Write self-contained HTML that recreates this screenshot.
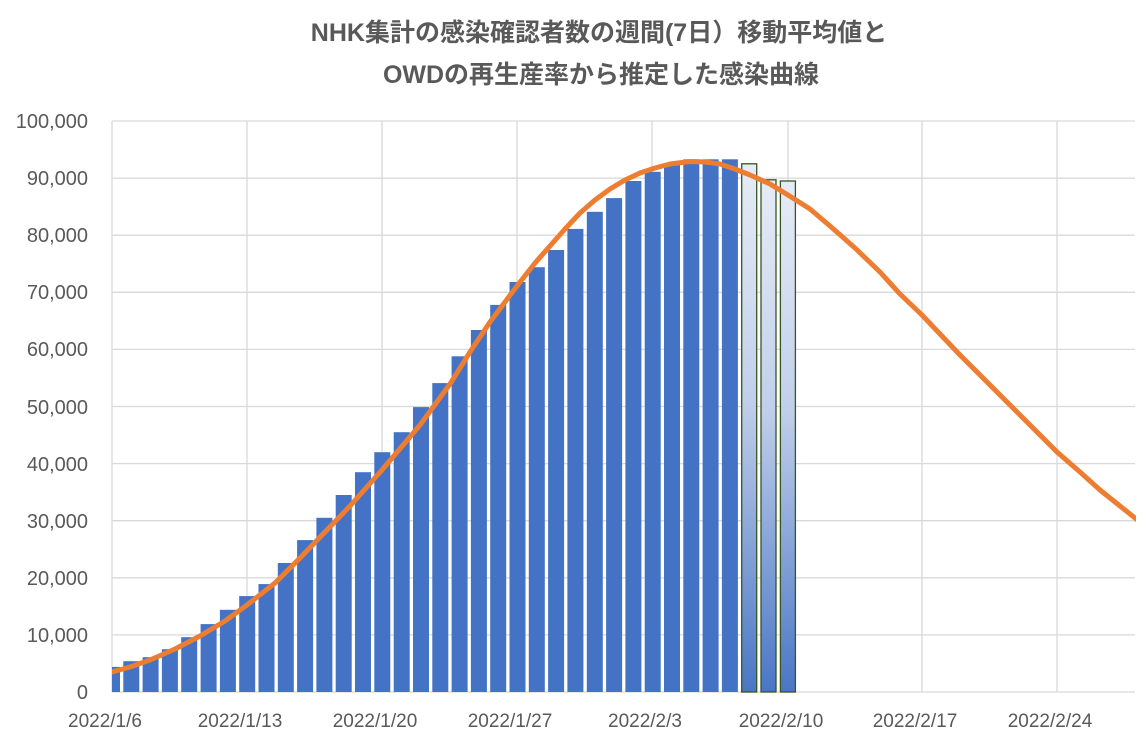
<!DOCTYPE html>
<html><head><meta charset="utf-8"><style>
html,body{margin:0;padding:0;background:#fff;}
svg{display:block;font-family:"Liberation Sans","Noto Sans CJK JP",sans-serif;}
</style></head><body>
<svg width="1148" height="744" viewBox="0 0 1148 744" xmlns="http://www.w3.org/2000/svg">
<defs>
<linearGradient id="g" x1="0" y1="0" x2="0" y2="1">
<stop offset="0" stop-color="#e6ecf6"/><stop offset="0.45" stop-color="#c0cfea"/><stop offset="1" stop-color="#4a76c5"/>
</linearGradient>
<clipPath id="c"><rect x="112" y="100" width="1024" height="600"/></clipPath>
</defs>
<rect width="1148" height="744" fill="#fff"/>
<text x="599" y="41" text-anchor="middle" font-size="25" font-weight="bold" fill="#595959">NHK集計の感染確認者数の週間(7日）移動平均値と</text>
<text x="601" y="83" text-anchor="middle" font-size="25" font-weight="bold" fill="#595959">OWDの再生産率から推定した感染曲線</text>
<g stroke="#d9d9d9" stroke-width="1.3">
<line x1="112" x2="1135" y1="692" y2="692"/><line x1="112" x2="1135" y1="634.9" y2="634.9"/><line x1="112" x2="1135" y1="577.8" y2="577.8"/><line x1="112" x2="1135" y1="520.7" y2="520.7"/><line x1="112" x2="1135" y1="463.6" y2="463.6"/><line x1="112" x2="1135" y1="406.5" y2="406.5"/><line x1="112" x2="1135" y1="349.4" y2="349.4"/><line x1="112" x2="1135" y1="292.3" y2="292.3"/><line x1="112" x2="1135" y1="235.2" y2="235.2"/><line x1="112" x2="1135" y1="178.1" y2="178.1"/><line x1="112" x2="1135" y1="121" y2="121"/>
<line x1="112" x2="112" y1="121" y2="692"/><line x1="247" x2="247" y1="121" y2="692"/><line x1="382" x2="382" y1="121" y2="692"/><line x1="517" x2="517" y1="121" y2="692"/><line x1="652" x2="652" y1="121" y2="692"/><line x1="788" x2="788" y1="121" y2="692"/><line x1="922" x2="922" y1="121" y2="692"/><line x1="1057" x2="1057" y1="121" y2="692"/>
</g>
<g font-size="20" fill="#595959" text-anchor="end">
<text x="88" y="699">0</text><text x="88" y="642">10,000</text><text x="88" y="585">20,000</text><text x="88" y="528">30,000</text><text x="88" y="471">40,000</text><text x="88" y="414">50,000</text><text x="88" y="356">60,000</text><text x="88" y="299">70,000</text><text x="88" y="242">80,000</text><text x="88" y="185">90,000</text><text x="88" y="128">100,000</text>
</g>
<g font-size="19" fill="#595959" text-anchor="middle">
<text x="105" y="727">2022/1/6</text><text x="240" y="727">2022/1/13</text><text x="375" y="727">2022/1/20</text><text x="510" y="727">2022/1/27</text><text x="645" y="727">2022/2/3</text><text x="781" y="727">2022/2/10</text><text x="915" y="727">2022/2/17</text><text x="1050" y="727">2022/2/24</text>
</g>
<g clip-path="url(#c)" fill="#4472c4">
<rect x="104" y="666.9" width="16" height="25.1"/>
<rect x="123.3" y="661.2" width="16" height="30.8"/>
<rect x="142.6" y="657.2" width="16" height="34.8"/>
<rect x="161.9" y="649.2" width="16" height="42.8"/>
<rect x="181.2" y="637.2" width="16" height="54.8"/>
<rect x="200.6" y="624.1" width="16" height="67.9"/>
<rect x="219.9" y="609.8" width="16" height="82.2"/>
<rect x="239.2" y="596.1" width="16" height="95.9"/>
<rect x="258.5" y="584.1" width="16" height="107.9"/>
<rect x="277.8" y="563" width="16" height="129"/>
<rect x="297.1" y="540.1" width="16" height="151.9"/>
<rect x="316.4" y="517.8" width="16" height="174.2"/>
<rect x="335.7" y="495" width="16" height="197"/>
<rect x="355" y="472.2" width="16" height="219.8"/>
<rect x="374.3" y="452.2" width="16" height="239.8"/>
<rect x="393.7" y="432.2" width="16" height="259.8"/>
<rect x="413" y="407.1" width="16" height="284.9"/>
<rect x="432.3" y="383.1" width="16" height="308.9"/>
<rect x="451.6" y="356.3" width="16" height="335.7"/>
<rect x="470.9" y="330" width="16" height="362"/>
<rect x="490.2" y="304.9" width="16" height="387.1"/>
<rect x="509.5" y="282" width="16" height="410"/>
<rect x="528.8" y="267.2" width="16" height="424.8"/>
<rect x="548.1" y="250" width="16" height="442"/>
<rect x="567.4" y="228.9" width="16" height="463.1"/>
<rect x="586.8" y="211.8" width="16" height="480.2"/>
<rect x="606.1" y="198.1" width="16" height="493.9"/>
<rect x="625.4" y="181" width="16" height="511"/>
<rect x="644.7" y="171.8" width="16" height="520.2"/>
<rect x="664" y="163.8" width="16" height="528.2"/>
<rect x="683.3" y="159.3" width="16" height="532.7"/>
<rect x="702.6" y="159.3" width="16" height="532.7"/>
<rect x="721.9" y="159.3" width="16" height="532.7"/>
</g>
<g fill="url(#g)" stroke="#375623" stroke-width="1.3">
<rect x="741.7" y="163.8" width="15" height="528.2"/>
<rect x="761" y="179.8" width="15" height="512.2"/>
<rect x="780.4" y="181" width="15" height="511"/>
</g>
<polyline fill="none" stroke="#ed7d31" stroke-width="5" stroke-linejoin="round" stroke-linecap="round" clip-path="url(#c)" points="112,672 130,667 150,660 175,649 200,636 225,621 247,605 275,583 300,558 325,532 350,506 382,470 420,425 450,384 470,352 490,322 517,286 535,263 550,246 565,229 580,213 595,200 610,189 625,180 640,173 655,168 670,164 690,161.5 705,162 720,164 735,169 750,175 770,184 788,195 810,209 830,226 855,248 880,272 900,294 922,315 940,334 960,355 980,375 1000,395 1030,425 1057,452 1080,472 1100,490 1120,506 1140,522"/>
</svg>
</body></html>
